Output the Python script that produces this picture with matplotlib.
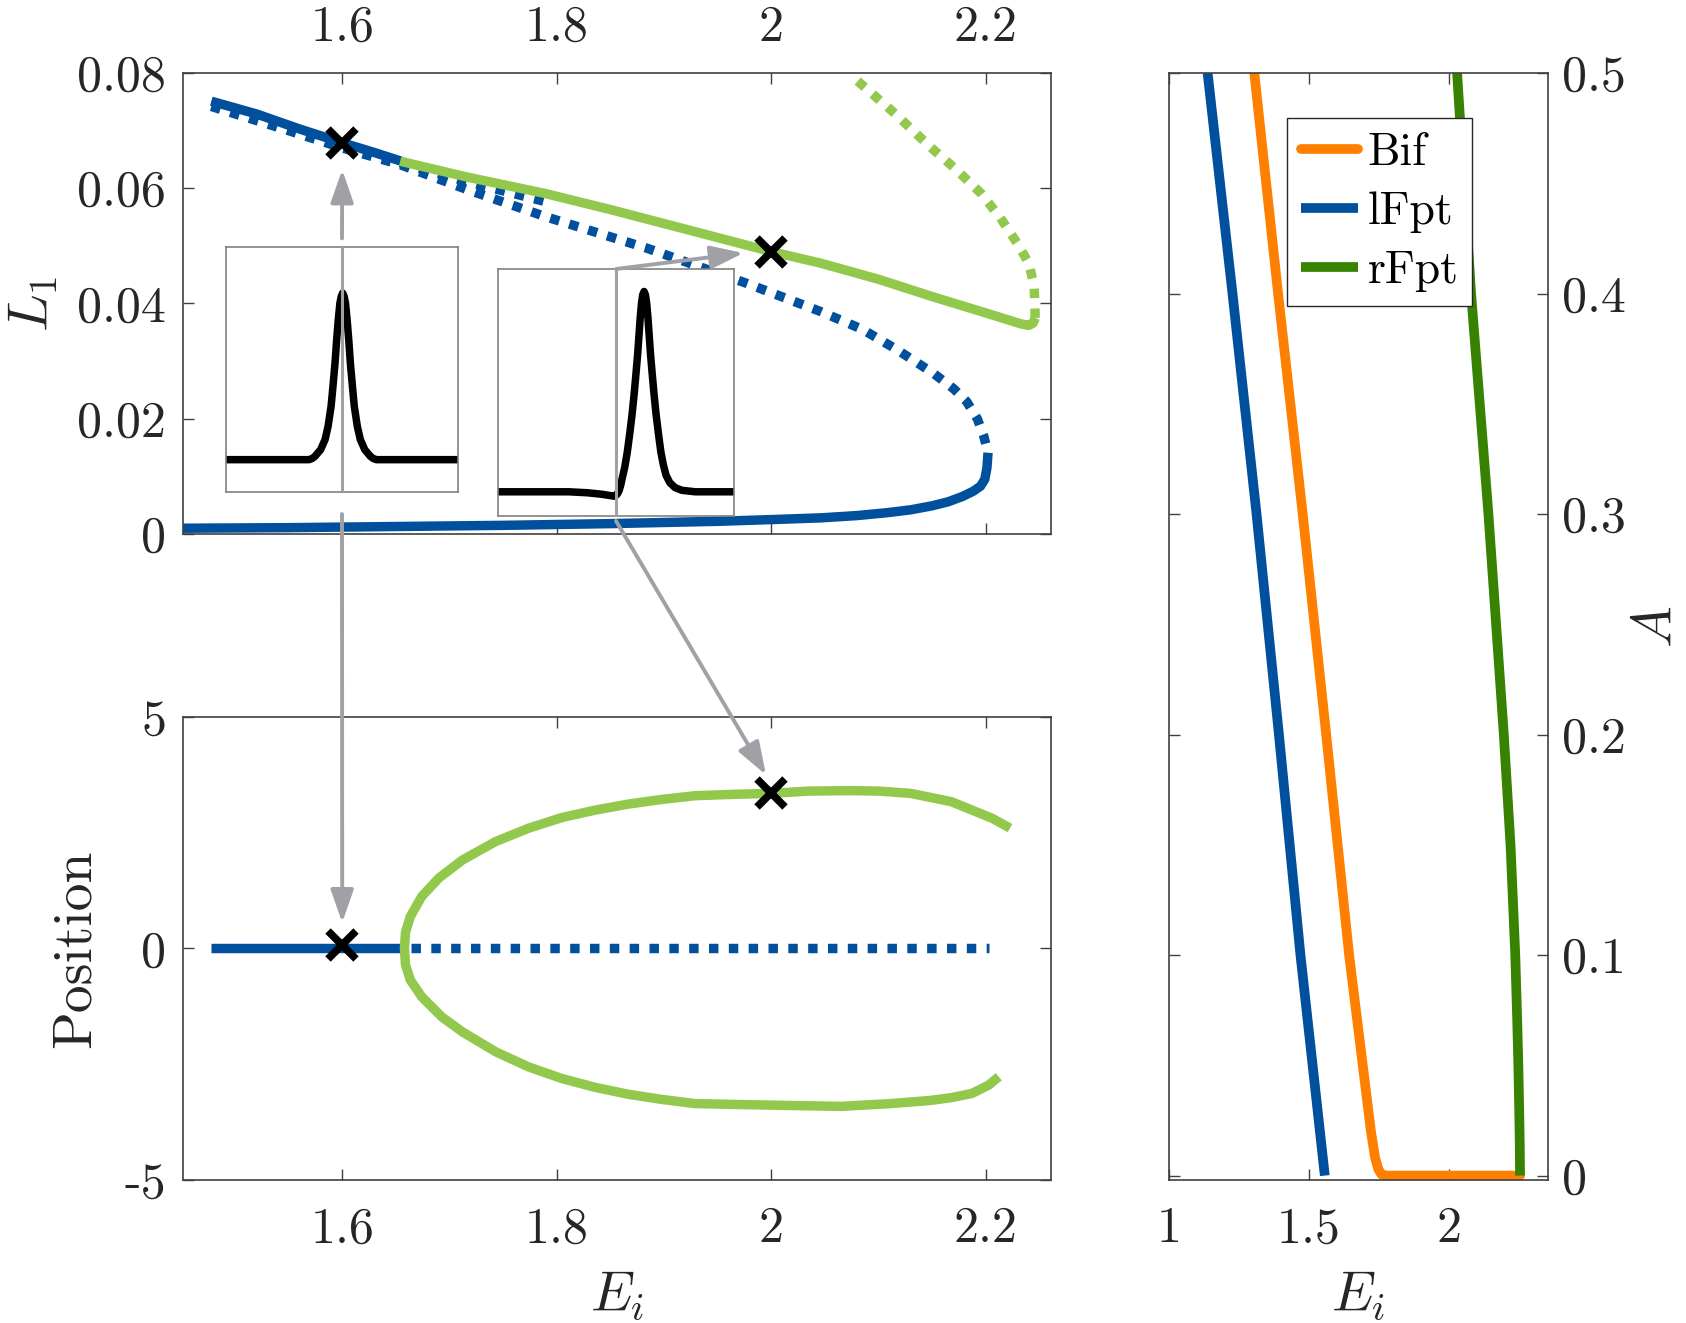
import matplotlib
matplotlib.use('Agg')
import matplotlib.pyplot as plt
from matplotlib.patches import ConnectionPatch

plt.rcParams['font.family'] = 'cmr10'
plt.rcParams['mathtext.fontset'] = 'cm'
plt.rcParams['axes.unicode_minus'] = False
plt.rcParams['axes.formatter.use_mathtext'] = True

# colours
blue = '#00509E'
lgreen = '#92C84C'
orange = '#FF8000'
dgreen = '#378200'
grey = '#A0A0A6'
frame = '#404040'
txt = '#262626'

# ---- top panel: L1 vs Ei ----
top_lfpt_E = [1.478, 1.52, 1.56, 1.60, 1.63, 1.655]
top_lfpt_L = [0.0751, 0.0729, 0.0703, 0.0679, 0.0662, 0.0647]

top_unst_E = [1.478, 1.55, 1.60, 1.654, 1.716, 1.789, 1.884, 1.977, 2.046, 2.085, 2.117, 2.151,
              2.170, 2.182, 2.192, 2.198, 2.202]
top_unst_L = [0.0742, 0.0700, 0.0670, 0.0641, 0.0598, 0.0551, 0.0496, 0.0435, 0.0386, 0.0355, 0.0320,
              0.0279, 0.0252, 0.0230, 0.0200, 0.0170, 0.0141]

top_unst2_E = [1.654, 1.715, 1.789]
top_unst2_L = [0.0644, 0.0612, 0.0577]

top_low_E = [1.45, 1.55, 1.65, 1.75, 1.85, 1.95, 2.00, 2.046, 2.08, 2.108, 2.13, 2.15, 2.165, 2.178,
             2.188, 2.195, 2.199, 2.201, 2.202]
top_low_L = [0.0010, 0.0011, 0.0013, 0.0015, 0.0018, 0.0022, 0.0025, 0.0028, 0.0032, 0.0037, 0.0042,
             0.0049, 0.0056, 0.0065, 0.0074, 0.0083, 0.0095, 0.0115, 0.0141]

top_green_E = [1.654, 1.715, 1.789, 1.85, 1.92, 2.0, 2.046, 2.10, 2.15, 2.201, 2.220, 2.232, 2.240,
               2.244, 2.246]
top_green_L = [0.0647, 0.0620, 0.0591, 0.0563, 0.0529, 0.0490, 0.0470, 0.0442, 0.0412, 0.0383, 0.0372,
               0.0365, 0.0362, 0.0366, 0.0375]

top_gdot_E = [2.246, 2.245, 2.240, 2.229, 2.213, 2.195, 2.172, 2.148, 2.115, 2.078]
top_gdot_L = [0.0375, 0.0430, 0.0470, 0.0505, 0.0550, 0.0592, 0.0633, 0.0672, 0.0730, 0.0790]

top_mark_E = [1.6, 2.0]
top_mark_L = [0.0679, 0.0490]

# ---- bottom panel: position vs Ei ----
bot_lfpt_E = [1.478, 1.656]
bot_lfpt_P = [0.0, 0.0]
bot_unst_E = [1.664, 2.2026]
bot_unst_P = [0.0, 0.0]
bot_green_E = [2.212, 2.2026, 2.187, 2.168, 2.149, 2.111, 2.065, 2.016, 1.970, 1.929, 1.898, 1.867,
               1.836, 1.805, 1.774, 1.743, 1.712, 1.693, 1.674, 1.6635, 1.659, 1.658,
               1.659, 1.6635, 1.674, 1.690, 1.712, 1.743, 1.774, 1.805, 1.836, 1.867, 1.898,
               1.929, 1.965, 2.0, 2.035, 2.073, 2.100, 2.130, 2.168, 2.187, 2.206, 2.2225]
bot_green_P = [-2.77, -2.95, -3.13, -3.22, -3.28, -3.35, -3.41, -3.39, -3.37, -3.35, -3.26, -3.15,
               -3.00, -2.81, -2.56, -2.23, -1.80, -1.48, -1.04, -0.68, -0.35, 0.0,
               0.35, 0.69, 1.12, 1.52, 1.91, 2.31, 2.60, 2.83, 2.99, 3.12, 3.22,
               3.30, 3.33, 3.35, 3.40, 3.41, 3.40, 3.35, 3.17, 2.99, 2.81, 2.60]
bot_mark_E = [1.6, 2.0]
bot_mark_P = [0.08, 3.35]

# ---- right panel: A vs Ei ----
bif_A = [0.5, 0.4, 0.3, 0.2, 0.1, 0.02, 0.008, 0.003, 0.0005, 0.0, 0.0]
bif_E = [1.305, 1.390, 1.478, 1.562, 1.644, 1.722, 1.737, 1.748, 1.760, 1.780, 2.255]
lfpt_A = [0.5, 0.4, 0.3, 0.2, 0.1, 0.0]
lfpt_E = [1.138, 1.227, 1.313, 1.393, 1.470, 1.557]
rfpt_A = [0.5, 0.4, 0.3, 0.2, 0.15, 0.1, 0.07, 0.05, 0.03, 0.015, 0.0]
rfpt_E = [2.030, 2.080, 2.142, 2.197, 2.221, 2.238, 2.245, 2.249, 2.252, 2.254, 2.255]

# ---- inset profiles ----
in1_u = [0.0, 0.358, 0.372, 0.384, 0.408, 0.427, 0.440, 0.453, 0.461, 0.470, 0.477, 0.484, 0.491,
         0.497, 0.503, 0.509, 0.515, 0.522, 0.529, 0.536, 0.545, 0.553, 0.566, 0.579, 0.598,
         0.622, 0.634, 0.648, 1.0]
in1_v = [0.132, 0.132, 0.137, 0.146, 0.173, 0.214, 0.268, 0.350, 0.431, 0.527, 0.622, 0.703, 0.771,
         0.799, 0.812, 0.799, 0.771, 0.703, 0.622, 0.527, 0.431, 0.350, 0.268, 0.214, 0.173,
         0.146, 0.137, 0.132, 0.132]
in2_u = [0.0, 0.30, 0.38, 0.44, 0.48, 0.493, 0.505, 0.513, 0.520, 0.527, 0.537, 0.548, 0.558, 0.568,
         0.577, 0.585, 0.592, 0.598, 0.603, 0.608, 0.613, 0.619, 0.625, 0.630, 0.635, 0.640, 0.646,
         0.653, 0.661, 0.670, 0.680, 0.690, 0.700, 0.712, 0.728, 0.750, 0.779, 0.836, 1.0]
in2_v = [0.098, 0.098, 0.094, 0.088, 0.082, 0.080, 0.088, 0.102, 0.125, 0.156, 0.197, 0.260, 0.332,
         0.410, 0.495, 0.580, 0.658, 0.740, 0.807, 0.860, 0.895, 0.909, 0.895, 0.860, 0.807, 0.740,
         0.658, 0.580, 0.495, 0.410, 0.332, 0.260, 0.210, 0.165, 0.135, 0.115, 0.104, 0.098, 0.098]

W, H = 1686, 1323
fig = plt.figure(figsize=(W / 100, H / 100), dpi=100)


def px_axes(x0, y0, x1, y1):
    return fig.add_axes([x0 / W, 1 - y1 / H, (x1 - x0) / W, (y1 - y0) / H])


def style(ax):
    for s in ax.spines.values():
        s.set_color(frame)
        s.set_linewidth(1.2)
    ax.tick_params(direction='in', length=8, width=1.0, color=frame,
                   labelsize=36, labelcolor=txt, top=True, right=True)


lw = 6.8
dots = (0, (1, 1.1))

ax1 = px_axes(183, 73, 1051, 534)
ax2 = px_axes(183, 717, 1051, 1180)
ax3 = px_axes(1169, 73, 1548, 1180)

# top panel
ax1.plot(top_unst_E, top_unst_L, color=blue, lw=lw, ls=dots, dash_capstyle='butt')
ax1.plot(top_unst2_E, top_unst2_L, color=blue, lw=lw, ls=dots, dash_capstyle='butt')
ax1.plot(top_lfpt_E, top_lfpt_L, color=blue, lw=lw, solid_capstyle='butt')
ax1.plot(top_low_E, top_low_L, color=blue, lw=lw, solid_capstyle='butt', solid_joinstyle='round')
ax1.plot(top_gdot_E, top_gdot_L, color=lgreen, lw=lw, ls=dots, dash_capstyle='butt')
ax1.plot(top_green_E, top_green_L, color=lgreen, lw=lw, solid_capstyle='butt', solid_joinstyle='round')
ax1.plot(top_mark_E, top_mark_L, 'x', color='k', ms=20, mew=5.5, zorder=5)
ax1.set_xlim(1.4516, 2.2607)
ax1.set_ylim(0, 0.08)
ax1.set_xticks([1.6, 1.8, 2.0, 2.2])
ax1.set_xticklabels(['1.6', '1.8', '2', '2.2'])
ax1.set_yticks([0, 0.02, 0.04, 0.06, 0.08])
ax1.set_yticklabels(['0', '0.02', '0.04', '0.06', '0.08'])
style(ax1)
ax1.tick_params(labeltop=True, labelbottom=False)
ax1.tick_params(axis='x', pad=16)
ax1.tick_params(axis='y', pad=12)
ax1.set_ylabel('$L_1$', fontsize=40, color=txt)
ax1.yaxis.label.set_va('center')
ax1.yaxis.set_label_coords(-0.172, 0.5)

# bottom panel
ax2.plot(bot_unst_E, bot_unst_P, color=blue, lw=lw, ls=dots, dash_capstyle='butt')
ax2.plot(bot_lfpt_E, bot_lfpt_P, color=blue, lw=lw, solid_capstyle='butt')
ax2.plot(bot_green_E, bot_green_P, color=lgreen, lw=lw, solid_capstyle='butt', solid_joinstyle='round')
ax2.plot(bot_mark_E, bot_mark_P, 'x', color='k', ms=20, mew=5.5, zorder=5)
ax2.set_xlim(1.4516, 2.2607)
ax2.set_ylim(-5, 5)
ax2.set_xticks([1.6, 1.8, 2.0, 2.2])
ax2.set_xticklabels(['1.6', '1.8', '2', '2.2'])
ax2.set_yticks([-5, 0, 5])
ax2.set_yticklabels(['-5', '0', '5'])
style(ax2)
ax2.tick_params(axis='x', pad=19)
ax2.tick_params(axis='y', pad=12)
ax2.set_ylabel('Position', fontsize=40, color=txt)
ax2.yaxis.label.set_va('center')
ax2.yaxis.set_label_coords(-0.124, 0.5)
ax2.set_xlabel('$E_i$', fontsize=40, color=txt)
ax2.xaxis.label.set_va('center')
ax2.xaxis.set_label_coords(0.5, -0.25)

# right panel
l_bif, = ax3.plot(bif_E, bif_A, color=orange, lw=7, solid_capstyle='round', solid_joinstyle='round', label='Bif')
l_lf, = ax3.plot(lfpt_E, lfpt_A, color=blue, lw=7, solid_capstyle='butt', label='lFpt')
l_rf, = ax3.plot(rfpt_E, rfpt_A, color=dgreen, lw=7, solid_capstyle='butt', solid_joinstyle='round', label='rFpt')
ax3.set_xlim(1.0, 2.355)
ax3.set_ylim(-0.002, 0.5)
ax3.set_xticks([1.0, 1.5, 2.0])
ax3.set_xticklabels(['1', '1.5', '2'])
ax3.set_yticks([0, 0.1, 0.2, 0.3, 0.4, 0.5])
ax3.set_yticklabels(['0', '0.1', '0.2', '0.3', '0.4', '0.5'])
style(ax3)
ax3.tick_params(labelleft=False, labelright=True)
ax3.tick_params(axis='x', pad=19)
ax3.tick_params(axis='y', pad=10)
ax3.yaxis.set_label_position('right')
ax3.set_ylabel('$A$', fontsize=40, color=txt, rotation=90)
ax3.yaxis.label.set_va('center')
ax3.yaxis.set_label_coords(1.29, 0.5)
ax3.set_xlabel('$E_i$', fontsize=40, color=txt)
ax3.xaxis.label.set_va('center')
ax3.xaxis.set_label_coords(0.5, -116 / 1107)
leg = ax3.legend(handles=[l_bif, l_lf, l_rf], loc='upper left', bbox_to_anchor=(0.312, 0.959),
                 fontsize=33, frameon=True, fancybox=False, framealpha=1, edgecolor=txt,
                 handlelength=1.25, handletextpad=0.2, labelspacing=0.38, borderpad=0.3,
                 borderaxespad=0)
leg.get_frame().set_linewidth(1.0)

# insets
in1 = px_axes(226, 247, 458, 492)
in2 = px_axes(498, 269, 734, 516)
for ax, u, v in [(in1, in1_u, in1_v), (in2, in2_u, in2_v)]:
    ax.plot(u, v, color='k', lw=5.4, solid_joinstyle='round')
    ax.axvline(0.5, color=grey, lw=2.2, zorder=3)
    ax.set_xlim(0, 1)
    ax.set_ylim(0, 1)
    ax.set_xticks([])
    ax.set_yticks([])
    for s in ax.spines.values():
        s.set_color('#808080')
        s.set_linewidth(1.2)

# grey arrows
arrow = dict(arrowstyle='-|>,head_length=0.8,head_width=0.28', mutation_scale=25,
             color=grey, lw=2.8, shrinkA=0, shrinkB=0)
fig.add_artist(ConnectionPatch(xyA=(0.5, 1.035), coordsA=in1.transAxes,
                               xyB=(1.6, 0.0632), coordsB=ax1.transData, **arrow))
fig.add_artist(ConnectionPatch(xyA=(0.5, -0.09), coordsA=in1.transAxes,
                               xyB=(1.6, 0.56), coordsB=ax2.transData, **arrow))
fig.add_artist(ConnectionPatch(xyA=(0.5, 1.0), coordsA=in2.transAxes,
                               xyB=(1.974, 0.04875), coordsB=ax1.transData, **arrow))
fig.add_artist(ConnectionPatch(xyA=(0.5, -0.02), coordsA=in2.transAxes,
                               xyB=(1.995, 3.75), coordsB=ax2.transData, **arrow))

fig.savefig('out.png', dpi=100, facecolor='white')
